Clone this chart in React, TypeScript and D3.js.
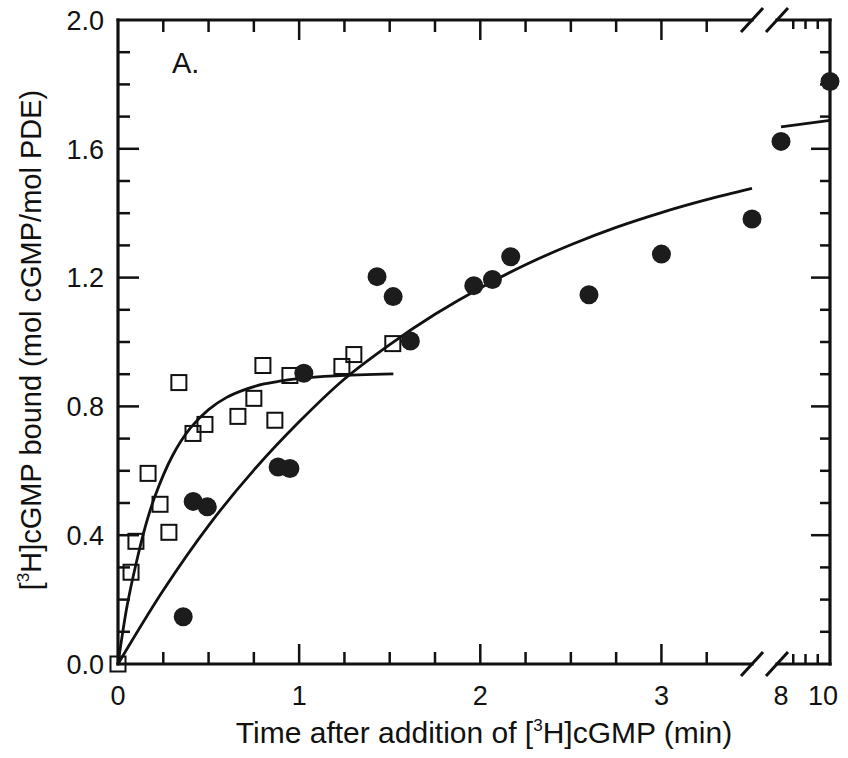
import React from "react";
import * as d3 from "d3";

// ---- Data ----
// Open squares
const squareTime = [0, 0.072, 0.099, 0.166, 0.232, 0.281, 0.336, 0.414, 0.48, 0.662, 0.75, 0.8, 0.866, 0.949, 1.236, 1.302, 1.517];
const squareBound = [0, 0.285, 0.381, 0.592, 0.496, 0.409, 0.874, 0.716, 0.744, 0.769, 0.825, 0.927, 0.757, 0.896, 0.924, 0.961, 0.995];

// Filled circles, first x segment (0–3.5 min)
const circleTime = [0.36, 0.415, 0.493, 0.884, 0.949, 1.026, 1.43, 1.519, 1.614, 1.964, 2.067, 2.168, 2.6, 3.0, 3.5];
const circleBound = [0.147, 0.505, 0.488, 0.612, 0.607, 0.903, 1.203, 1.141, 1.003, 1.175, 1.194, 1.265, 1.147, 1.273, 1.382];
// Filled circles, second x segment (8–10 min)
const circleTimeLate = [8, 10];
const circleBoundLate = [1.623, 1.809];

// Fitted curve through squares
const fastFitTime = [0, 0.05, 0.1, 0.15, 0.2, 0.3, 0.4, 0.5, 0.6, 0.7, 0.8, 0.9, 1.0, 1.2, 1.52];
const fastFitBound = [0, 0.18, 0.312, 0.425, 0.515, 0.646, 0.733, 0.79, 0.828, 0.852, 0.869, 0.879, 0.887, 0.895, 0.901];

// Fitted curve through circles
const slowFitTime = [0, 0.25, 0.5, 0.75, 1.0, 1.25, 1.5, 1.75, 2.0, 2.25, 2.5, 2.75, 3.0, 3.25, 3.5];
const slowFitBound = [0, 0.229, 0.43, 0.602, 0.752, 0.885, 0.992, 1.086, 1.168, 1.24, 1.302, 1.356, 1.402, 1.442, 1.477];
const lateFitTime = [8, 10];
const lateFitBound = [1.668, 1.688];

// Tick labels
const yTickLabels = [0, 0.4, 0.8, 1.2, 1.6, 2.0];
const xTickLabelsMain = [0, 1, 2, 3];
const xTickLabelsLate = [8, 10];

const W = 848;
const H = 758;
const FONT = "'Liberation Sans', Arial, sans-serif";
const INK = "#111";

export default function App() {
  const y = d3.scaleLinear().domain([0, 2]).range([664, 20]);
  const x1 = d3.scaleLinear().domain([0, 3.5]).range([118, 752]);
  const x2 = d3.scaleLinear().domain([8, 10]).range([781, 830]);

  const left = x1(0);
  const right = x2(10);
  const top = y(2);
  const bottom = y(0);
  const break1 = 752;
  const break2 = 777;

  const line1 = d3
    .line<[number, number]>()
    .x((d) => x1(d[0]))
    .y((d) => y(d[1]))
    .curve(d3.curveCatmullRom.alpha(0.5));
  const line2 = d3
    .line<[number, number]>()
    .x((d) => x2(d[0]))
    .y((d) => y(d[1]));

  const fastPts = fastFitTime.map((t, i) => [t, fastFitBound[i]] as [number, number]);
  const slowPts = slowFitTime.map((t, i) => [t, slowFitBound[i]] as [number, number]);
  const latePts = lateFitTime.map((t, i) => [t, lateFitBound[i]] as [number, number]);

  const yTicks = d3.range(1, 20).map((i) => i / 10);
  const xTicksMain = d3.range(1, 14).map((i) => i * 0.25);
  const xTicksLate = [8.5, 9, 9.5];

  const isMajorY = (v: number) => Math.abs(v / 0.4 - Math.round(v / 0.4)) < 1e-6;
  const isMajorX = (v: number) => Math.abs(v - Math.round(v)) < 1e-6;

  const slash = (cx: number, cy: number, k: string) => (
    <line key={k} x1={cx - 11} y1={cy + 12} x2={cx + 11} y2={cy - 12} stroke={INK} strokeWidth={3} />
  );

  return (
    <svg width={W} height={H} style={{ position: "absolute", left: 0, top: 0, background: "#fff" }}>
      <rect x={0} y={0} width={W} height={H} fill="#fff" />
      {/* frame */}
      <g stroke={INK} strokeWidth={3.2} fill="none" strokeLinecap="square">
        <line x1={left} y1={top} x2={left} y2={bottom} />
        <line x1={right} y1={top} x2={right} y2={bottom} />
        <line x1={left} y1={top} x2={break1} y2={top} />
        <line x1={break2} y1={top} x2={right} y2={top} />
        <line x1={left} y1={bottom} x2={break1} y2={bottom} />
        <line x1={break2} y1={bottom} x2={right} y2={bottom} />
      </g>
      {slash(break1, top, "s1")}
      {slash(break2, top, "s2")}
      {slash(break1, bottom, "s3")}
      {slash(break2, bottom, "s4")}

      {/* ticks (inward on all sides) */}
      <g stroke={INK} strokeWidth={2.5}>
        {yTicks.map((v) => (
          <g key={"yt" + v}>
            <line x1={left} x2={left + (isMajorY(v) ? 21 : 12)} y1={y(v)} y2={y(v)} />
            <line x1={right} x2={right - (isMajorY(v) ? 19 : 10)} y1={y(v)} y2={y(v)} />
          </g>
        ))}
        {xTicksMain.map((v) => (
          <g key={"xt" + v}>
            <line x1={x1(v)} x2={x1(v)} y1={bottom} y2={bottom - (isMajorX(v) ? 20 : 12)} />
            <line x1={x1(v)} x2={x1(v)} y1={top} y2={top + (isMajorX(v) ? 20 : 12)} />
          </g>
        ))}
        {xTicksLate.map((v) => (
          <g key={"xl" + v}>
            <line x1={x2(v)} x2={x2(v)} y1={bottom} y2={bottom - 10} />
            <line x1={x2(v)} x2={x2(v)} y1={top} y2={top + 9} />
          </g>
        ))}
      </g>

      {/* tick labels */}
      <g fontFamily={FONT} fontSize={27} fill={INK}>
        {yTickLabels.map((v) => (
          <text key={"yl" + v} x={104} y={y(v)} dy="0.36em" textAnchor="end">
            {v.toFixed(1)}
          </text>
        ))}
        {xTickLabelsMain.map((v) => (
          <text key={"xlm" + v} x={x1(v)} y={705} textAnchor="middle">
            {v}
          </text>
        ))}
        {xTickLabelsLate.map((v) => (
          <text key={"xll" + v} x={v === 10 ? x2(v) - 7 : x2(v)} y={705} textAnchor="middle">
            {v}
          </text>
        ))}
      </g>

      {/* axis titles */}
      <text x={484} y={743} textAnchor="middle" fontFamily={FONT} fontSize={30} fill={INK}>
        Time after addition of [<tspan fontSize={17} dy={-12}>3</tspan>
        <tspan dy={12}>H]cGMP (min)</tspan>
      </text>
      <text
        transform="translate(41,340) rotate(-90)"
        textAnchor="middle"
        fontFamily={FONT}
        fontSize={29}
        fill={INK}
      >
        [<tspan fontSize={17} dy={-12}>3</tspan>
        <tspan dy={12}>H]cGMP bound (mol cGMP/mol PDE)</tspan>
      </text>
      <text x={172} y={73} fontFamily={FONT} fontSize={29} fill={INK}>
        A.
      </text>

      {/* fitted curves */}
      <g fill="none" stroke={INK} strokeWidth={2.8}>
        <path d={line1(fastPts) || ""} />
        <path d={line1(slowPts) || ""} />
        <path d={line2(latePts) || ""} />
      </g>

      {/* squares */}
      <g fill="none" stroke={INK} strokeWidth={2}>
        {squareTime.map((t, i) => (
          <rect key={"sq" + i} x={x1(t) - 7.5} y={y(squareBound[i]) - 7.5} width={15} height={15} />
        ))}
      </g>

      {/* circles */}
      <g fill="#1c1c1c">
        {circleTime.map((t, i) => (
          <circle key={"c" + i} cx={x1(t)} cy={y(circleBound[i])} r={9.5} />
        ))}
        {circleTimeLate.map((t, i) => (
          <circle key={"cl" + i} cx={x2(t)} cy={y(circleBoundLate[i])} r={9.5} />
        ))}
      </g>
    </svg>
  );
}
